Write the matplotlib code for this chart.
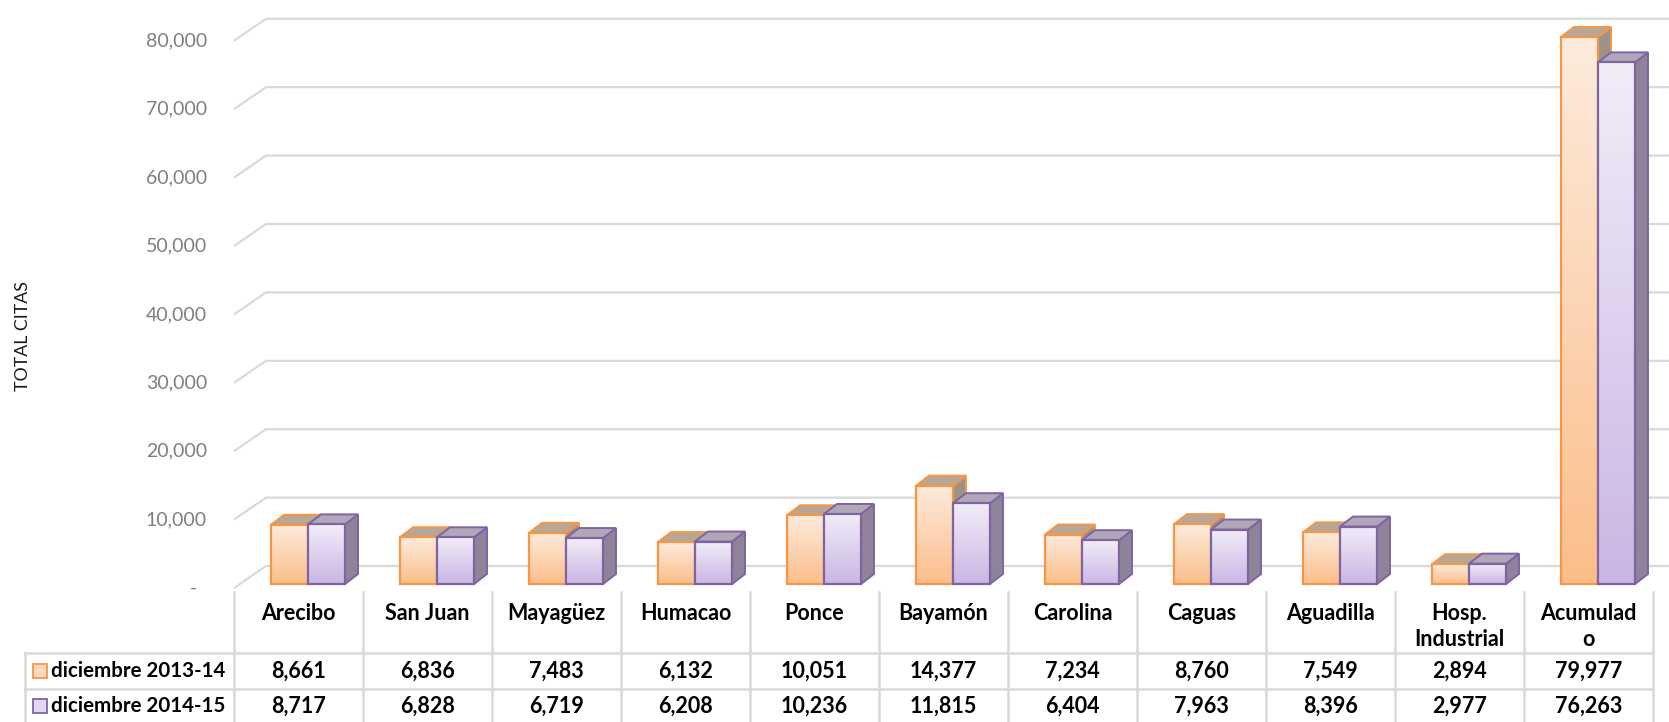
import numpy as np
import matplotlib.pyplot as plt
from matplotlib.patches import Polygon, Rectangle
from matplotlib.colors import LinearSegmentedColormap
from matplotlib import transforms

plt.rcParams['font.family'] = ['Lato', 'DejaVu Sans']

categorias = ['Arecibo', 'San Juan', 'Mayagüez', 'Humacao', 'Ponce', 'Bayamón',
              'Carolina', 'Caguas', 'Aguadilla', 'Hosp.\nIndustrial', 'Acumulad\no']
dic_2013_14 = [8661, 6836, 7483, 6132, 10051, 14377, 7234, 8760, 7549, 2894, 79977]
dic_2014_15 = [8717, 6828, 6719, 6208, 10236, 11815, 6404, 7963, 8396, 2977, 76263]
series = ['diciembre 2013-14', 'diciembre 2014-15']
yticks = [0, 10000, 20000, 30000, 40000, 50000, 60000, 70000, 80000]

# colours: edge, gradient bottom, gradient top, top face, side face, legend fill
estilos = [
    dict(edge='#F79646', bot='#FBBE8A', top='#FDEBDC', tface='#B6A797', sface='#9E9288', leg='#FCD9BC'),
    dict(edge='#8064A2', bot='#CAB6E4', top='#F1EDF8', tface='#B0A8B9', sface='#8E8399', leg='#E2D9F0'),
]

W, H = 1669, 722
fig = plt.figure(figsize=(W / 100, H / 100), dpi=100)

ppu = 68.4 / 10000      # pixels per unit of value
col = 129               # pixels per category
left_px = 234
floor_px = 588

ax = fig.add_axes([left_px / W, (H - floor_px) / H, 1 - left_px / W, floor_px / H])
xmax = -0.5 + (W - left_px) / col
ymax = floor_px / ppu
ax.axis('off')

# 3d wall gridlines
wx, wy = 32 / col, 22 / ppu
for v in yticks:
    ax.plot([-0.5, -0.5 + wx, xmax], [v, v + wy, v + wy], color='#D9D9D9', lw=1.6,
            zorder=1, clip_on=False, solid_capstyle='butt')
    lab = f'{v:,}' if v else '-'
    xl = -0.5 - 27 / col if v else -0.5 - 37 / col
    ax.text(xl, v, lab, ha='right', va='center', fontsize=14, color='#7F7F7F')

# bars
wb = 37 / col
dxb, dyb = 13 / col, 10 / ppu
base = 4 / ppu
x_idx = np.arange(len(categorias))
for s, vals in enumerate([dic_2013_14, dic_2014_15]):
    st = estilos[s]
    z = 2 + s
    x0s = x_idx - 0.5 + (37 + 37 * s) / col
    cmap = LinearSegmentedColormap.from_list('g%d' % s, [st['bot'], st['top']])
    grad = np.linspace(0, 1, 128).reshape(-1, 1)
    for x0, v in zip(x0s, vals):
        x1 = x0 + wb
        top = base + v
        ax.add_patch(Polygon([(x1, base), (x1 + dxb, base + dyb), (x1 + dxb, top + dyb), (x1, top)],
                             closed=True, facecolor=st['sface'], edgecolor=st['edge'], lw=1.4, zorder=z))
        ax.add_patch(Polygon([(x0, top), (x0 + dxb, top + dyb), (x1 + dxb, top + dyb), (x1, top)],
                             closed=True, facecolor=st['tface'], edgecolor=st['edge'], lw=1.4, zorder=z))
        ax.imshow(grad, extent=(x0, x1, base, top), origin='lower', aspect='auto',
                  cmap=cmap, interpolation='bilinear', zorder=z + 0.1)
    ax.bar(x0s, vals, width=wb, bottom=base, align='edge', facecolor='none',
           edgecolor=st['edge'], lw=1.6, zorder=z + 0.2)

ax.set_xlim(-0.5, xmax)
ax.set_ylim(0, ymax)

fig.text(23 / W, 1 - 336 / H, 'TOTAL CITAS', rotation=90, ha='center', va='center',
         fontsize=12.8, color='#1a1a1a')

# data table
tr = transforms.blended_transform_factory(ax.transData, fig.transFigure)
fy = lambda p: 1 - p / H
grid_c = '#D9D9D9'
leg_x = -0.5 - (left_px - 25) / col
for i in range(len(categorias) + 1):
    ax.plot([i - 0.5, i - 0.5], [fy(592), fy(722)], color=grid_c, lw=1.8, transform=tr, clip_on=False)
ax.plot([leg_x, leg_x], [fy(653), fy(722)], color=grid_c, lw=1.8, transform=tr, clip_on=False)
for yp in [653, 689]:
    ax.plot([leg_x, len(categorias) - 0.5], [fy(yp), fy(yp)], color=grid_c, lw=1.8,
            transform=tr, clip_on=False)

fs = 15.5
for i, c in enumerate(categorias):
    ax.text(i, fy(603), c, ha='center', va='top', fontsize=fs, fontweight='bold',
            linespacing=1.32, transform=tr)

for s, (vals, yp) in enumerate(zip([dic_2013_14, dic_2014_15], [671, 706])):
    st = estilos[s]
    for i, v in enumerate(vals):
        ax.text(i, fy(yp), f'{v:,}', ha='center', va='center', fontsize=fs,
                fontweight='bold', transform=tr)
    fig.add_artist(Rectangle((33 / W, fy(yp + 7)), 14 / W, 14 / H, transform=fig.transFigure,
                             facecolor=st['leg'], edgecolor=st['edge'], lw=1.3))
    fig.text(51 / W, fy(yp), series[s], ha='left', va='center', fontsize=14.8, fontweight='bold')

fig.savefig('out.png', dpi=100)
